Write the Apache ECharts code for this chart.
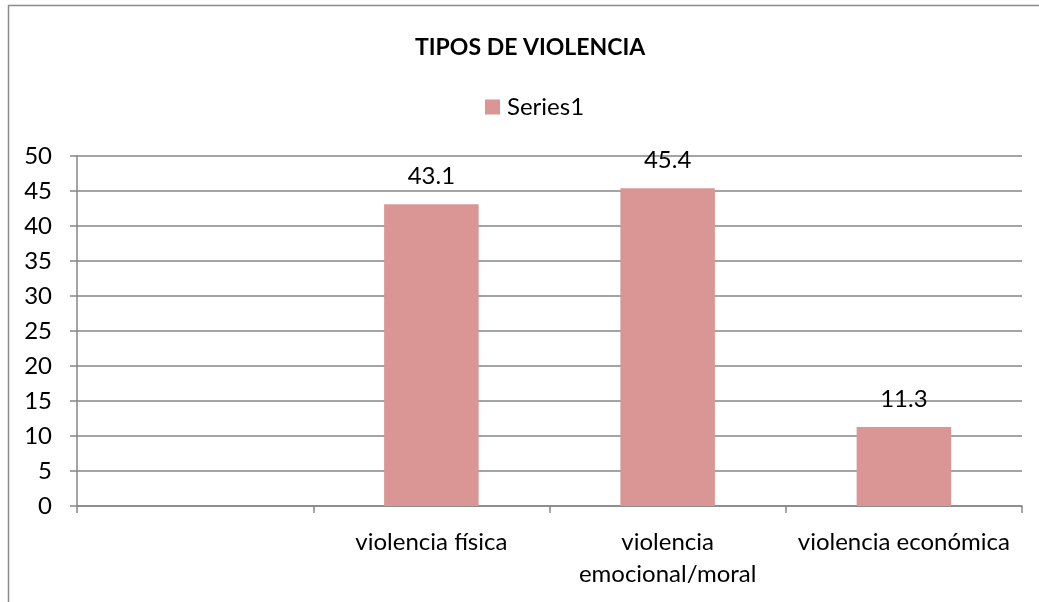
<!DOCTYPE html>
<html>
	<head>
		<meta charset="UTF-8">
		<title>TIPOS DE VIOLENCIA</title>
		<script type="text/javascript" src="https://cdn.jsdelivr.net/npm/echarts@6/dist/echarts.min.js"></script>
		<style>
			html, body { margin: 0; padding: 0; background: #fff; }
			#chart { width: 1039px; height: 602px; }
		</style>
	</head>
	<body>
		<div id="chart"></div>
	</body>
	<script type="text/javascript">
		var categories = ['', 'violencia física', 'violencia\nemocional/moral', 'violencia económica'];
		var series1 = ['-', 43.1, 45.4, 11.3];
		var yTicks = [0, 5, 10, 15, 20, 25, 30, 35, 40, 45, 50];

		var font = 'Lato, "Open Sans", sans-serif';
		var gray = '#868686';

		var myChart = echarts.init(document.getElementById('chart'));
		var option = {
			animation: false,
			textStyle: { fontFamily: font },
			graphic: [{
				type: 'rect',
				shape: { x: 8.5, y: 5.5, width: 1100, height: 700 },
				style: { fill: 'none', stroke: '#8c8c8c', lineWidth: 1.5 },
				silent: true
			}],
			title: {
				text: 'TIPOS DE VIOLENCIA',
				left: 410,
				top: 31,
				textStyle: { fontFamily: font, fontSize: 23, fontWeight: 'bold', color: '#000' }
			},
			legend: {
				data: ['Series1'],
				top: 90,
				left: 480,
				itemWidth: 15,
				itemHeight: 15,
				itemGap: 6,
				icon: 'rect',
				textStyle: { fontFamily: font, fontSize: 24, color: '#000', padding: [0, 0, 0, 2] }
			},
			grid: { left: 77, right: 17, top: 156, bottom: 96, containLabel: false },
			xAxis: {
				type: 'category',
				data: categories,
				axisLine: { lineStyle: { color: gray, width: 1.5 } },
				axisTick: { show: true, length: 7, lineStyle: { color: gray, width: 1.5 } },
				axisLabel: { color: '#000', fontSize: 24, margin: 20, lineHeight: 32, interval: 0 },
				splitLine: { show: false }
			},
			yAxis: {
				type: 'value',
				min: yTicks[0],
				max: yTicks[yTicks.length - 1],
				interval: 5,
				axisLine: { show: true, lineStyle: { color: gray, width: 1.5 } },
				axisTick: { show: true, length: 7, lineStyle: { color: gray, width: 1.5 } },
				axisLabel: { color: '#000', fontSize: 24, margin: 25 },
				splitLine: { lineStyle: { color: gray, width: 1.5 } }
			},
			series: [{
				name: 'Series1',
				type: 'bar',
				data: series1,
				barCategoryGap: '60%',
				itemStyle: { color: '#d99694' },
				label: {
					show: true,
					position: 'top',
					distance: 16,
					color: '#000',
					fontSize: 24,
					fontFamily: font
				}
			}]
		};
		myChart.setOption(option);
	</script>
</html>
